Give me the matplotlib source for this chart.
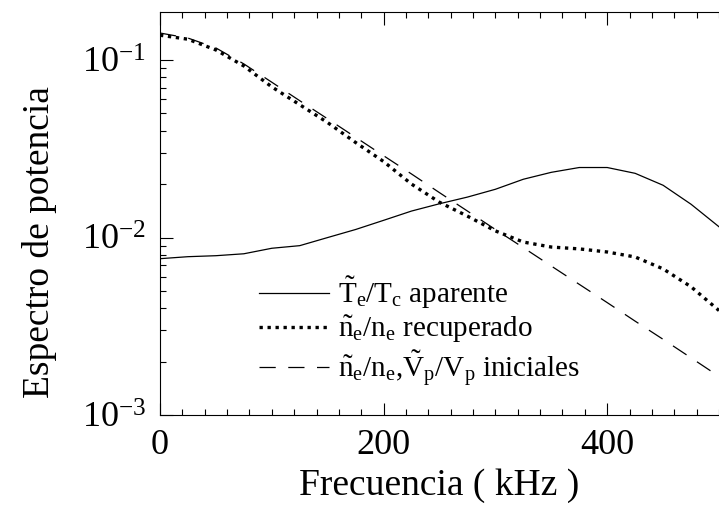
import matplotlib
matplotlib.use('Agg')
import matplotlib.pyplot as plt
from matplotlib.ticker import MultipleLocator, FixedLocator, FuncFormatter
import numpy as np

plt.rcParams.update({'font.family': 'Liberation Serif',
                     'mathtext.fontset': 'custom',
                     'mathtext.rm': 'Liberation Serif',
                     'mathtext.it': 'Liberation Serif',
                     'mathtext.bf': 'Liberation Serif'})

# frequency grid (kHz)
freq = [0, 25, 50, 75, 100, 125, 150, 175, 200, 225, 250,
        275, 300, 325, 350, 375, 400, 425, 450, 475, 500]

# T_e/T_c apparent (solid)
te_ap = [0.0076, 0.0078, 0.0079, 0.0081, 0.0087, 0.0090, 0.0100, 0.0111, 0.0125, 0.0141, 0.0155,
         0.0169, 0.0187, 0.0213, 0.0233, 0.0248, 0.0248, 0.0230, 0.0197, 0.0154, 0.0115]

# n_e/n_e recovered (dotted)
ne_rec = [0.138, 0.131, 0.114, 0.0926, 0.0706, 0.0560, 0.0444, 0.0343, 0.0268, 0.0200, 0.0158,
          0.0132, 0.0109, 0.00943, 0.00884, 0.00863, 0.00829, 0.00777, 0.00666, 0.00528, 0.00388]

# n_e/n_e, V_p/V_p initial (dashed)
ini = [0.142, 0.133, 0.117, 0.0951, 0.0750, 0.0590, 0.0466, 0.0367, 0.0289, 0.0228, 0.0179,
       0.0141, 0.0111, 0.00877, 0.00691, 0.00545, 0.00430, 0.00338, 0.00267, 0.00210, 0.00165]

labels = [r'$\tilde{\mathrm{T}}_\mathrm{e}/\mathrm{T}_\mathrm{c}$ aparente',
          r'$\tilde{\mathrm{n}}_\mathrm{e}/\mathrm{n}_\mathrm{e}$ recuperado',
          r'$\tilde{\mathrm{n}}_\mathrm{e}/\mathrm{n}_\mathrm{e}$,$\tilde{\mathrm{V}}_\mathrm{p}/\mathrm{V}_\mathrm{p}$ iniciales']

fig = plt.figure(figsize=(7.19, 5.08), dpi=100)
ax = fig.add_axes([0.2225, 0.183, 0.7775, 0.793])

ax.plot(freq, te_ap, color='black', lw=0.9, label=labels[0])
ax.plot(freq, ne_rec, color='black', lw=2.4, dashes=(1.0, 1.4), label=labels[1])
ax.plot(freq, ini, color='black', lw=0.9, dashes=(13, 10), label=labels[2])

ax.set_yscale('log')
ax.set_xlim(0, 500)
ax.set_ylim(1e-3, 0.186)

ax.xaxis.set_major_locator(FixedLocator([0, 200, 400]))
ax.xaxis.set_minor_locator(MultipleLocator(20))
ax.yaxis.set_major_locator(FixedLocator([1e-3, 1e-2, 1e-1]))
ax.yaxis.set_major_formatter(FuncFormatter(lambda v, p: r'$10^{%d}$' % round(np.log10(v))))

ax.tick_params(which='both', direction='in', top=True, right=False, labelsize=26, width=0.8)
ax.tick_params(which='major', length=9, pad=10)
ax.tick_params(which='minor', length=4)
ax.spines['right'].set_visible(False)
for s in ['left', 'top', 'bottom']:
    ax.spines[s].set_linewidth(0.8)

ax.set_xlabel('Frecuencia ( kHz )', fontsize=27, labelpad=5)
ax.set_ylabel('Espectro de potencia', fontsize=27)
ax.yaxis.set_label_coords(-0.185, 0.43)

ax.legend(loc='lower left', bbox_to_anchor=(0.13, 0.0), frameon=False, fontsize=21,
          handlelength=2.4, handletextpad=0.3, labelspacing=0.1)

fig.savefig('out.png', dpi=100)
